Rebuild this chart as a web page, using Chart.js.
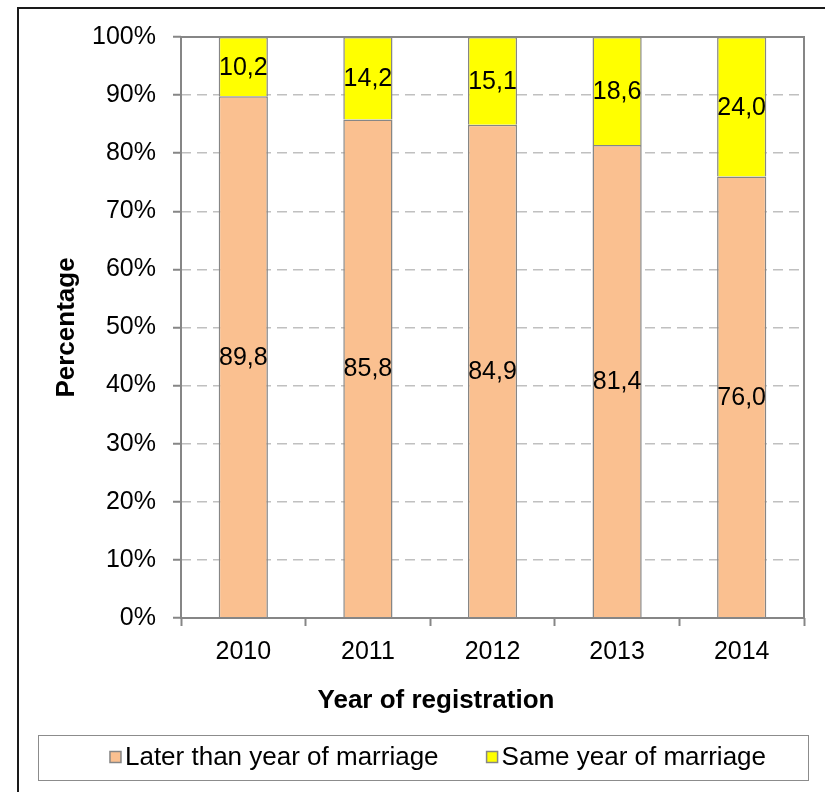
<!DOCTYPE html>
<html><head><meta charset="utf-8">
<script src="https://cdn.jsdelivr.net/npm/chart.js@4.4.1/dist/chart.umd.min.js"></script>
<style>html,body{margin:0;padding:0;background:#fff;}#wrap{width:825px;height:792px;position:relative;}</style>
</head><body><div id="wrap"><canvas id="c" width="825" height="792"></canvas></div>
<script>
const years = ['2010', '2011', '2012', '2013', '2014'];
const laterValues = [89.8, 85.8, 84.9, 81.4, 76.0];
const sameValues = [10.2, 14.2, 15.1, 18.6, 24.0];
const seriesNames = ['Later than year of marriage', 'Same year of marriage'];
const seriesColors = ['#FAC090', '#FFFF00'];
const yTickValues = [0, 10, 20, 30, 40, 50, 60, 70, 80, 90, 100];
const xTitle = 'Year of registration';
const yTitle = 'Percentage';

const FONT = 'Liberation Sans, Arial, sans-serif';
const fmt = v => v.toFixed(1).replace('.', ',');

const decor = {
  id: 'decor',
  beforeDraw(chart) {
    const ctx = chart.ctx;
    ctx.save(); ctx.fillStyle = '#fff'; ctx.fillRect(0, 0, chart.width, chart.height); ctx.restore();
  },
  afterDatasetsDraw(chart) {
    const ctx = chart.ctx, a = chart.chartArea;
    ctx.save();
    ctx.strokeStyle = '#868686'; ctx.lineWidth = 2;
    ctx.strokeRect(a.left, a.top, a.right - a.left, a.bottom - a.top);
    ctx.fillStyle = '#000';
    ctx.font = '25px ' + FONT;
    ctx.textAlign = 'center'; ctx.textBaseline = 'middle';
    chart.data.datasets.forEach((ds, di) => {
      const meta = chart.getDatasetMeta(di);
      meta.data.forEach((el, i) => {
        const p = el.getProps(['x', 'y', 'base'], true);
        ctx.fillText(fmt(ds.data[i]), p.x, (p.y + p.base) / 2 + 1);
      });
    });
    ctx.restore();
  },
  afterDraw(chart) {
    const ctx = chart.ctx;
    ctx.save();
    // outer frame
    ctx.fillStyle = '#1a1a1a';
    ctx.fillRect(17, 7, 2, chart.height - 7);
    ctx.fillRect(17, 7, chart.width - 17, 2);
    // x axis title (centred on the whole chart, as in the original)
    ctx.fillStyle = '#000';
    ctx.font = 'bold 26px ' + FONT;
    ctx.textAlign = 'center'; ctx.textBaseline = 'middle';
    ctx.fillText(xTitle, 436, 701);
    // legend box
    ctx.strokeStyle = '#8c8c8c'; ctx.lineWidth = 1;
    ctx.strokeRect(38.5, 735.5, 770, 45);
    ctx.font = '26px ' + FONT;
    ctx.textBaseline = 'middle'; ctx.textAlign = 'left';
    const box = 11, gap = 4, itemGap = 48;
    const ds = chart.data.datasets;
    const widths = ds.map(d => ctx.measureText(d.label).width);
    let total = 0;
    widths.forEach((w, i) => { total += box + gap + w + (i ? itemGap : 0); });
    let x = 438 - total / 2;
    const cy = 757;
    ds.forEach((d, i) => {
      ctx.fillStyle = d.backgroundColor;
      ctx.fillRect(x, cy - box / 2, box, box);
      ctx.strokeStyle = '#868686'; ctx.lineWidth = 1.5;
      ctx.strokeRect(x, cy - box / 2, box, box);
      ctx.fillStyle = '#000';
      ctx.fillText(d.label, x + box + gap, cy + 1);
      x += box + gap + widths[i] + itemGap;
    });
    ctx.restore();
  }
};

const dsBase = { borderColor: '#868686', borderWidth: 1.5, barPercentage: 0.395, categoryPercentage: 1 };

new Chart(document.getElementById('c'), {
  type: 'bar',
  data: {
    labels: years,
    datasets: [
      Object.assign({ label: seriesNames[0], data: laterValues, backgroundColor: seriesColors[0] }, dsBase),
      Object.assign({ label: seriesNames[1], data: sameValues, backgroundColor: seriesColors[1] }, dsBase)
    ]
  },
  options: {
    responsive: false,
    animation: false,
    devicePixelRatio: 1,
    layout: { padding: { left: 30, right: 21, top: 37, bottom: 74 } },
    plugins: { legend: { display: false }, tooltip: { enabled: false } },
    scales: {
      x: {
        stacked: true,
        grid: { display: true, drawOnChartArea: false, drawTicks: true, tickLength: 8, tickColor: '#868686', tickWidth: 2, offset: true },
        border: { display: false },
        ticks: { color: '#000', font: { family: FONT, size: 25 }, padding: 11, maxRotation: 0 },
        title: { display: false },
        afterFit(s) { s.height = 100; }
      },
      y: {
        stacked: true, min: 0, max: 100,
        afterBuildTicks(s) { s.ticks = yTickValues.map(v => ({ value: v })); },
        ticks: { color: '#000', font: { family: FONT, size: 25 }, padding: 17, callback: v => v + '%' },
        grid: { color: '#C0C0C0', lineWidth: 1.5, tickLength: 8, tickColor: '#868686', tickWidth: 2, tickBorderDash: [] },
        border: { display: false, dash: [10, 6] },
        title: { display: true, text: yTitle, color: '#000', font: { family: FONT, size: 26, weight: 'bold', lineHeight: 1 }, padding: { top: 24, bottom: 0 } },
        afterFit(s) { s.width = 151; }
      }
    }
  },
  plugins: [decor]
});
</script></body></html>
